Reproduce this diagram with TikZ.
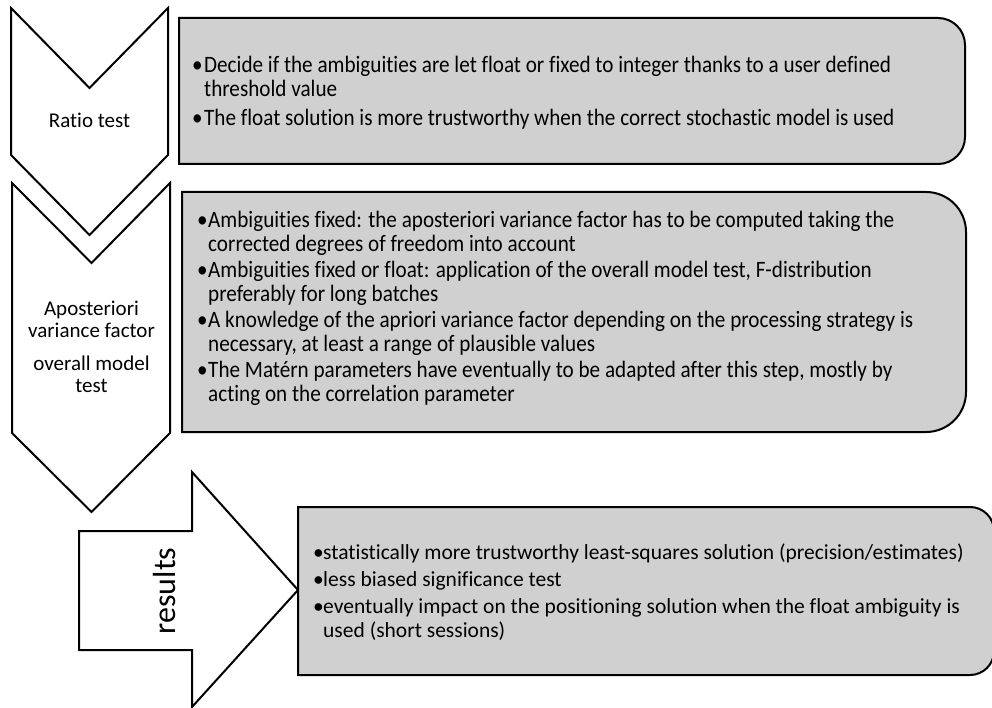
\documentclass[tikz,border=0pt]{standalone}
\usepackage{fontspec}
\setmainfont{Carlito}[Ligatures=NoCommon]
\newfontfamily\condfont[FakeStretch=0.9,Ligatures=NoCommon]{Carlito}
\definecolor{boxgray}{RGB}{208,208,208}
\newcommand{\bulA}{\makebox[12pt][l]{•}}
\newcommand{\bulB}{\makebox[11pt][l]{•}}
\newcommand{\bulC}{\makebox[10pt][l]{•}}
\begin{document}
\begin{tikzpicture}[x=1pt,y=-1pt,
  shapeline/.style={draw=black, line width=2pt, fill=white, line join=miter},
  infobox/.style={draw=black, line width=2pt, fill=boxgray},
  txt/.style={inner sep=0pt, anchor=base west},
  lbl/.style={inner sep=0pt, anchor=base}]
\useasboundingbox (0,0) rectangle (992,708);

% chevrons
\draw[shapeline] (11,8) -- (89.5,88) -- (168,8) -- (168,155) -- (89.5,235) -- (11,155) -- cycle;
\draw[shapeline] (12,183) -- (91.5,263) -- (170,183) -- (170,433) -- (91.5,512) -- (12,433) -- cycle;
% results arrow
\draw[shapeline] (79,531) -- (192,531) -- (192,472) -- (298,590) -- (192,707) -- (192,650) -- (79,650) -- cycle;

% boxes
\draw[infobox, rounded corners=27pt] (572,18) -- (965,18) -- (965,164) -- (572,164) [sharp corners] -- (179,164) -- (179,18) -- cycle;
\draw[infobox, rounded corners=40pt] (574,192) -- (966,192) -- (966,432) -- (574,432) [sharp corners] -- (182,432) -- (182,192) -- cycle;
\draw[infobox, rounded corners=24pt] (640,507) -- (994,507) -- (994,675) -- (640,675) [sharp corners] -- (298,675) -- (298,507) -- cycle;

% chevron labels
\node[lbl, font=\fontsize{21}{22}\selectfont] (c1) at (89.5,128) {Ratio test};
\node[lbl] (c2) at (91.5,315) {\parbox[t]{160pt}{\centering\fontsize{21}{22.5}\selectfont Aposteriori\\variance factor\\[10pt]overall model\\test}};
\node[inner sep=0pt, rotate=90, font=\fontsize{32}{32}\selectfont] (res) at (165,591) {results};

% box texts
\node[txt] (t1) at (192,73) {\parbox[t]{770pt}{\condfont\fontsize{23.5}{24}\selectfont
\bulA Decide if the ambiguities are let float or fixed to integer thanks to a user defined\\
\hspace*{12pt}threshold value\\[5pt]
\bulA The float solution is more trustworthy when the correct stochastic model is used}};

\node[txt] (t2) at (197,228) {\parbox[t]{770pt}{\condfont\fontsize{23.5}{24}\selectfont
\bulB Ambiguities fixed: the aposteriori variance factor has to be computed taking the\\
\hspace*{11pt}corrected degrees of freedom into account\\[2pt]
\bulB Ambiguities fixed or float: application of the overall model test, F-distribution\\
\hspace*{11pt}preferably for long batches\\[2pt]
\bulB A knowledge of the apriori variance factor depending on the processing strategy is\\
\hspace*{11pt}necessary, at least a range of plausible values\\[2pt]
\bulB The Matérn parameters have eventually to be adapted after this step, mostly by\\
\hspace*{11pt}acting on the correlation parameter}};

\node[txt] (t3) at (313,559) {\parbox[t]{680pt}{\fontsize{21.5}{24}\selectfont
\bulC statistically more trustworthy least-squares solution (precision/estimates)\\[3pt]
\bulC less biased significance test\\[3pt]
\bulC eventually impact on the positioning solution when the float ambiguity is\\
\hspace*{10pt}used (short sessions)}};
\end{tikzpicture}
\end{document}
